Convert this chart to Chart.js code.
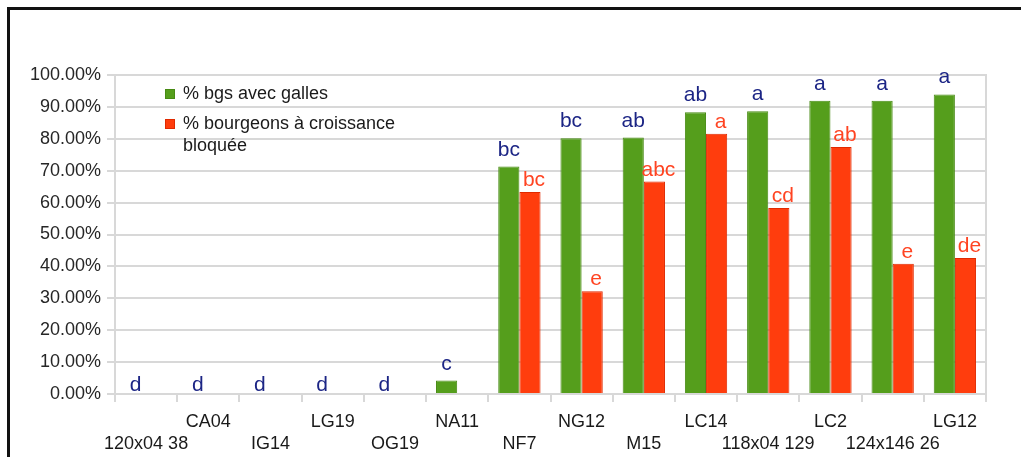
<!DOCTYPE html>
<html>
<head>
<meta charset="utf-8">
<script src="https://cdn.jsdelivr.net/npm/chart.js@4.4.1/dist/chart.umd.min.js"></script>
<style>
  html, body { margin: 0; padding: 0; background: #ffffff; }
  #wrap { position: relative; width: 1021px; height: 457px; overflow: hidden; background: #fff; }
  #frame { position: absolute; left: 7px; top: 7px; width: 1100px; height: 600px;
           border-left: 3px solid #111; border-top: 3px solid #111; pointer-events: none; }
  canvas { position: absolute; left: 0; top: 0; }
</style>
</head>
<body>
<div id="wrap">
  <canvas id="c" width="1021" height="457"></canvas>
  <div id="frame"></div>
</div>
<script>
const categories = ['120x04 38', 'CA04', 'IG14', 'LG19', 'OG19', 'NA11', 'NF7', 'NG12', 'M15', 'LC14', '118x04 129', 'LC2', '124x146 26', 'LG12'];
const seriesNames = ['% bgs avec galles', '% bourgeons à croissance bloquée'];
const gallesPct = [0, 0, 0, 0, 0, 4.2, 71.3, 80.2, 80.4, 88.3, 88.6, 91.9, 91.9, 93.9];
const bloqueesPct = [0, 0, 0, 0, 0, 0, 63.3, 32.2, 66.6, 81.6, 58.3, 77.4, 40.8, 42.6];
const gallesLetters = ['d', 'd', 'd', 'd', 'd', 'c', 'bc', 'bc', 'ab', 'ab', 'a', 'a', 'a', 'a'];
const bloqueesLetters = ['', '', '', '', '', '', 'bc', 'e', 'abc', 'a', 'cd', 'ab', 'e', 'de'];
const yMin = 0, yMax = 100, yStep = 10;

const FONT = '"Liberation Sans", Arial, sans-serif';
const GREEN = '#559e1c', GREEN_B = '#478a13';
const RED = '#ff3d0d', RED_B = '#e02a00';
const BLUE_TXT = '#1c2585', RED_TXT = '#ff4422';
const GRID = '#d8d8d8';

const lettersPlugin = {
  id: 'letters',
  afterDatasetsDraw(chart) {
    const ctx = chart.ctx;
    const sets = [
      { letters: gallesLetters, color: BLUE_TXT, gap: 11, dx: 0 },
      { letters: bloqueesLetters, color: RED_TXT, gap: 6, dx: 4 }
    ];
    ctx.save();
    ctx.font = '21px ' + FONT;
    ctx.textAlign = 'center';
    ctx.textBaseline = 'alphabetic';
    sets.forEach((s, di) => {
      const meta = chart.getDatasetMeta(di);
      const vals = chart.data.datasets[di].data;
      meta.data.forEach((el, i) => {
        const t = s.letters[i];
        if (!t) return;
        const gap = vals[i] === 0 ? 3 : s.gap;
        ctx.fillStyle = s.color;
        ctx.fillText(t, el.x + s.dx, el.y - gap);
      });
    });
    ctx.restore();
  }
};

const framePlugin = {
  id: 'rightEdge',
  beforeDatasetsDraw(chart) {
    const a = chart.chartArea, ctx = chart.ctx;
    ctx.save();
    ctx.strokeStyle = GRID;
    ctx.lineWidth = 2;
    ctx.beginPath();
    ctx.moveTo(a.right, a.top - 1);
    ctx.lineTo(a.right, a.bottom);
    ctx.stroke();
    ctx.restore();
  }
};

const legendPlugin = {
  id: 'innerLegend',
  afterDraw(chart) {
    const ctx = chart.ctx, a = chart.chartArea;
    const x0 = a.left + 50, y0 = a.top + 13;
    const colors = [[GREEN, GREEN_B], [RED, RED_B]];
    ctx.save();
    ctx.font = '18px ' + FONT;
    ctx.textBaseline = 'middle';
    ctx.textAlign = 'left';
    let y = y0;
    chart.data.datasets.forEach((ds, i) => {
      ctx.fillStyle = colors[i][0];
      ctx.fillRect(x0, y + 1, 10, 10);
      ctx.strokeStyle = colors[i][1];
      ctx.lineWidth = 1;
      ctx.strokeRect(x0 + 0.5, y + 1.5, 9, 9);
      const words = ds.label.split(' ');
      const lines = [];
      let cur = '';
      words.forEach(w => {
        const test = cur ? cur + ' ' + w : w;
        if (ctx.measureText(test).width > 240 && cur) { lines.push(cur); cur = w; }
        else cur = test;
      });
      lines.push(cur);
      ctx.fillStyle = '#1a1a1a';
      lines.forEach((ln, k) => {
        ctx.fillText(ln, x0 + 18, y + 6 + k * 22);
      });
      y += 30;
    });
    ctx.restore();
  }
};

new Chart(document.getElementById('c'), {
  type: 'bar',
  data: {
    labels: categories,
    datasets: [
      { label: seriesNames[0], data: gallesPct, backgroundColor: GREEN, borderColor: GREEN_B, borderWidth: 1, borderSkipped: 'bottom' },
      { label: seriesNames[1], data: bloqueesPct, backgroundColor: RED, borderColor: RED_B, borderWidth: 1, borderSkipped: 'bottom' }
    ]
  },
  options: {
    responsive: false,
    animation: false,
    devicePixelRatio: 1,
    layout: { padding: { top: 75, right: 35, left: 0, bottom: 0 } },
    datasets: { bar: { categoryPercentage: 0.68, barPercentage: 1.0 } },
    plugins: { legend: { display: false }, tooltip: { enabled: false } },
    scales: {
      x: {
        offset: true,
        grid: { offset: true, drawOnChartArea: false, tickLength: 8, color: GRID, lineWidth: 2 },
        border: { color: GRID, width: 2 },
        ticks: {
          autoSkip: false, maxRotation: 0, minRotation: 0, padding: 9,
          color: '#1a1a1a',
          font: { family: FONT, size: 18, lineHeight: 22 / 18 },
          callback: (v, i) => (i % 2 === 1 ? [categories[i], ''] : ['', categories[i]])
        },
        afterFit(scale) { scale.height = 63; }
      },
      y: {
        min: yMin, max: yMax,
        grid: { color: GRID, lineWidth: 2, tickLength: 8 },
        border: { color: GRID, width: 2 },
        ticks: {
          stepSize: yStep, padding: 6, color: '#262626',
          font: { family: FONT, size: 18 },
          callback: v => v.toFixed(2) + '%'
        },
        afterFit(scale) { scale.width = 115; }
      }
    }
  },
  plugins: [framePlugin, lettersPlugin, legendPlugin]
});
</script>
</body>
</html>
